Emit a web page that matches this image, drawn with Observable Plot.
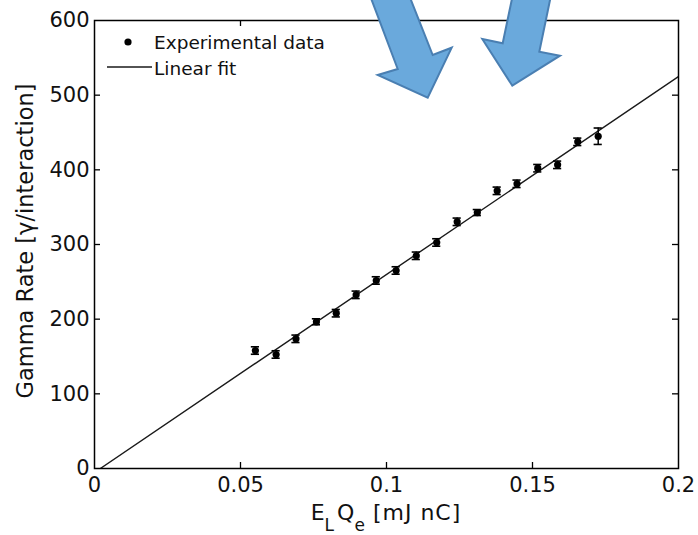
<!DOCTYPE html>
<html><head><meta charset="utf-8">
<script src="https://cdn.jsdelivr.net/npm/d3@7"></script>
<script src="https://cdn.jsdelivr.net/npm/@observablehq/plot@0.6"></script>
<style>
body{margin:0;background:#fff;}
#chart{position:relative;width:698px;height:535px;}
#chart svg{position:absolute;left:0;top:0;overflow:visible;}
</style></head><body><div id="chart"></div>
<script>
// ---- data ----
const energyCharge = [0.0551,0.0622,0.0690,0.0760,0.0828,0.0896,0.0965,0.1033,0.1102,0.1172,0.1242,0.1311,0.1379,0.1447,0.1518,0.1586,0.1655,0.1725];
const gammaRate    = [158.0,152.7,173.7,196.5,208.0,232.6,251.8,265.2,284.9,302.7,330.4,342.8,371.9,381.3,402.2,406.7,437.5,445.0];
const gammaErr     = [5,5,5,4,5,5,5,5,5,5,5,4,5,5,5,5,5,11];
const fitX = [0.002, 0.2];
const fitY = [0, 525];
const xTicks = [0, 0.05, 0.1, 0.15, 0.2];
const yTicks = [0, 100, 200, 300, 400, 500, 600];
const legendLabels = ["Experimental data", "Linear fit"];
const yLabel = "Gamma Rate [\u03b3/interaction]";
// annotation arrows (pixel outlines)
const arrowLeft  = [[367.9,-10],[397.7,69],[377.7,75],[427.7,97.7],[451.7,47.7],[432.7,55],[407,-10]];
const arrowRight = [[513.8,-10],[502.7,43.3],[482.3,39],[512.3,85.7],[560,55.7],[539.3,51.7],[552.1,-10]];

const points = energyCharge.map((x, i) => ({x, y: gammaRate[i], e: gammaErr[i]}));
const fit = fitX.map((x, i) => ({x, y: fitY[i]}));

const W = 698, H = 535, mL = 94, mR = 20, mT = 20, mB = 67;
const innerW = W - mL - mR, innerH = H - mT - mB;
const xDom = [0, 0.2], yDom = [0, 600];
const capHalf = 0.0014;
const tickLen = 6;
const tx = tickLen * (xDom[1] - xDom[0]) / innerW;
const ty = tickLen * (yDom[1] - yDom[0]) / innerH;
const innerX = xTicks.slice(1, -1), innerY = yTicks.slice(1, -1);
const tickStyle = {stroke: "#000", strokeWidth: 1.3};

const plot = Plot.plot({
  width: W, height: H,
  marginLeft: mL, marginRight: mR, marginTop: mT, marginBottom: mB,
  style: {fontFamily: "DejaVu Sans", fontSize: "21px", color: "#111", background: "white"},
  x: {domain: xDom, ticks: xTicks, tickFormat: d => String(d), tickSize: 0, tickPadding: 9, label: null},
  y: {domain: yDom, ticks: yTicks, tickFormat: d => String(d), tickSize: 0, tickPadding: 5, label: null},
  marks: [
    Plot.line(fit, {x: "x", y: "y", stroke: "#1a1a1a", strokeWidth: 1.4, clip: true}),
    Plot.ruleX(points, {x: "x", y1: d => d.y - d.e, y2: d => d.y + d.e, stroke: "#000", strokeWidth: 1.5}),
    Plot.ruleY(points, {y: d => d.y - d.e, x1: d => d.x - capHalf, x2: d => d.x + capHalf, stroke: "#000", strokeWidth: 1.6}),
    Plot.ruleY(points, {y: d => d.y + d.e, x1: d => d.x - capHalf, x2: d => d.x + capHalf, stroke: "#000", strokeWidth: 1.6}),
    Plot.dot(points, {x: "x", y: "y", r: 3.6, fill: "#000"}),
    Plot.ruleX(innerX, {x: d => d, y1: yDom[0], y2: yDom[0] + ty, ...tickStyle}),
    Plot.ruleX(innerX, {x: d => d, y1: yDom[1] - ty, y2: yDom[1], ...tickStyle}),
    Plot.ruleY(innerY, {y: d => d, x1: xDom[0], x2: xDom[0] + tx, ...tickStyle}),
    Plot.ruleY(innerY, {y: d => d, x1: xDom[1] - tx, x2: xDom[1], ...tickStyle}),
    Plot.frame({stroke: "#000", strokeWidth: 1.5})
  ]
});
document.getElementById("chart").appendChild(plot);

const svg = d3.select(plot);
// legend
const lg = svg.append("g").attr("font-family", "DejaVu Sans").attr("font-size", "18.5px").attr("fill", "#111").attr("text-anchor", "start");
lg.append("circle").attr("cx", 128).attr("cy", 42).attr("r", 3.6).attr("fill", "#000");
lg.append("text").attr("x", 154).attr("y", 48.5).attr("text-anchor", "start").text(legendLabels[0]);
lg.append("line").attr("x1", 107).attr("x2", 152).attr("y1", 67).attr("y2", 67).attr("stroke", "#1a1a1a").attr("stroke-width", 1.4);
lg.append("text").attr("x", 154).attr("y", 75).attr("text-anchor", "start").text(legendLabels[1]);

// y label
svg.append("text")
  .attr("transform", "translate(33,241) rotate(-90)")
  .attr("text-anchor", "middle")
  .attr("font-family", "DejaVu Sans").attr("font-size", "22.5px").attr("fill", "#111")
  .text(yLabel);

// x label with subscripts
const xl = svg.append("text")
  .attr("x", 386).attr("y", 520)
  .attr("text-anchor", "middle")
  .attr("font-family", "DejaVu Sans").attr("font-size", "22px").attr("fill", "#111");
xl.append("tspan").text("E");
xl.append("tspan").attr("dy", 11).attr("font-size", "17px").text("L");
xl.append("tspan").attr("dy", -11).attr("dx", 3).text("Q");
xl.append("tspan").attr("dy", 11).attr("font-size", "17px").text("e");
xl.append("tspan").attr("dy", -11).attr("letter-spacing", "1px").text(" [mJ nC]");

// overlay arrows
const ov = d3.select("#chart").append("svg").attr("width", W).attr("height", H).style("pointer-events", "none");
const line = d3.line();
[arrowLeft, arrowRight].forEach(a => {
  ov.append("path").attr("d", line(a) + "Z")
    .attr("fill", "#6aa9dc").attr("stroke", "#4a7fb2").attr("stroke-width", 2).attr("stroke-linejoin", "miter");
});
</script>
</body></html>
